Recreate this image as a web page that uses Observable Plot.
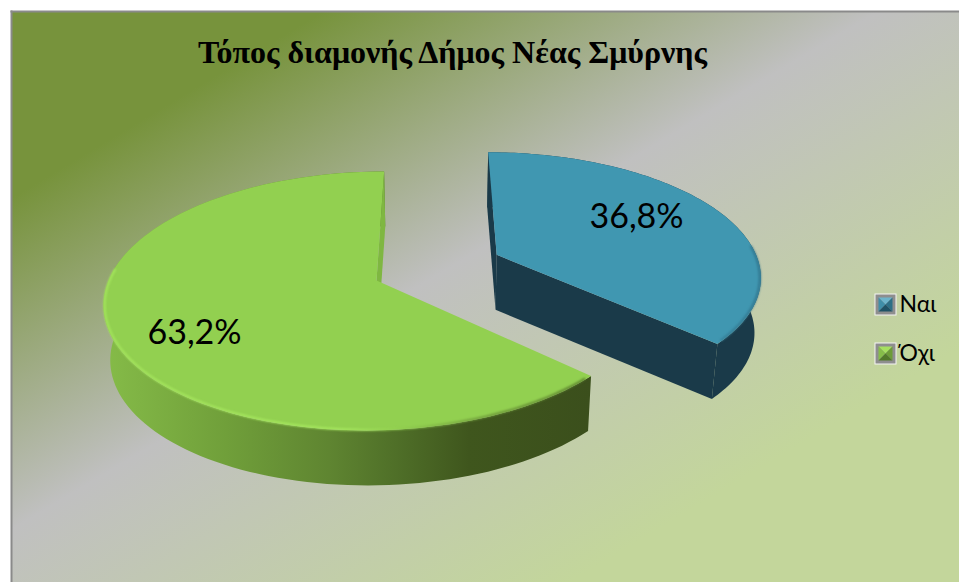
<!DOCTYPE html>
<html>
<head>
<meta charset="utf-8">
<script src="https://cdn.jsdelivr.net/npm/d3@7"></script>
<script src="https://cdn.jsdelivr.net/npm/@observablehq/plot@0.6"></script>
<style>
html,body{margin:0;padding:0;background:#fff;overflow:hidden}
svg{display:block}
</style>
</head>
<body>
<div id="chart"></div>
<script>
const titleText = "Τόπος διαμονής Δήμος Νέας Σμύρνης";
const categories = ["Ναι", "Όχι"];
const shares = [36.8, 63.2];
const shareLabels = ["36,8%", "63,2%"];
const topColors = ["#4097b1", "#92d050"];
const labelAnchors = [[636, 217], [194, 333]];
const legendRows = [304, 353];

// Perspective of the tilted, exploded pie
const VX = 432, A = -519, B = 799, P = 0.158, KX = 268, DEPTH = 55;
const offsets = [[66.3, -0.21], [-56, 0]];

function project(ox, oy, r, ang, down = 0) {
  const s = 1 / (1 - P * (oy - r * Math.cos(ang)));
  const X = ox + KX * r * Math.sin(ang);
  const x = VX + X * s, y = A + B * s;
  if (!down) return {x, y};
  return {x: x + (440 - x) * 0.02, y: y + down};
}
const pie = d3.pie().sort(null).value(d => d)(shares);
const arc = (i, a0, a1, r = 1, down = 0, n = 120) =>
  d3.range(n + 1).map(k => project(offsets[i][0], offsets[i][1], r, a0 + (a1 - a0) * k / n, down));
const slices = pie.map((p, i) => {
  const [a0, a1] = [p.startAngle, p.endAngle];
  const apex = project(offsets[i][0], offsets[i][1], 0, 0);
  const apexB = project(offsets[i][0], offsets[i][1], 0, 0, DEPTH);
  const rim = arc(i, a0, a1);
  const rimB = arc(i, a0, a1, 1, DEPTH);
  return {
    a0, a1,
    top: [apex, ...rim],
    side: [...rim, ...rimB.slice().reverse()],
    faceStart: [apex, apexB, rimB[0], rim[0]],
    faceEnd: [apex, apexB, rimB[rimB.length - 1], rim[rim.length - 1]]
  };
});

const poly = (pts, fill, extra = {}) => Plot.line(pts, {x: "x", y: "y", fill, stroke: "none", ...extra});
const stripe = (pts, stroke, w, blur) => Plot.line(pts, {x: "x", y: "y", stroke, strokeWidth: w, imageFilter: `blur(${blur}px)`});

const stopsOf = s => s.map(([o, c]) => `<stop offset="${o}" stop-color="${c}"/>`).join("");
const defs = () => {
  const g = document.createElementNS("http://www.w3.org/2000/svg", "defs");
  g.innerHTML = `
  <linearGradient id="bg" gradientUnits="userSpaceOnUse" x1="0" y1="0" x2="410.4" y2="686.4">
    ${stopsOf([[0.219, "#77933c"], [0.575, "#c0c0c0"], [0.99, "#c3d69b"]])}
  </linearGradient>
  <linearGradient id="greenSide" gradientUnits="userSpaceOnUse" x1="105" y1="0" x2="590" y2="0">
    ${stopsOf([[0, "#85bb48"], [0.25, "#709f3a"], [0.46, "#5f8531"], [0.6, "#4f6f28"], [0.75, "#3f561d"], [1, "#3b4f1c"]])}
  </linearGradient>
  <linearGradient id="greenRim" gradientUnits="userSpaceOnUse" x1="105" y1="0" x2="590" y2="0">
    ${stopsOf([[0, "#a6e65e"], [0.5, "#a8ea60"], [0.6, "#92d050"], [0.78, "#6b9438"], [1, "#55782a"]])}
  </linearGradient>
  <linearGradient id="blueRim" gradientUnits="userSpaceOnUse" x1="715" y1="0" x2="762" y2="0">
    ${stopsOf([[0, "#357f98"], [1, "#2f7189"]])}
  </linearGradient>`;
  return g;
};

const legendMarker = (i, y) => {
  const x0 = 875, s = 20, xm = x0 + s / 2, ym = y;
  const L = x0 + 3, R = x0 + s - 3, T = y - s / 2 + 3, Bo = y + s / 2 - 3;
  const pal = i === 0
    ? ["#6db4cb", "#3f8ea8", "#2d6f86", "#1f5266"]
    : ["#a6e060", "#86bd4a", "#6d9c38", "#527a2a"];
  const c = {x: xm, y: ym};
  const outer = [{x: x0 - 1, y: y - s / 2 - 1}, {x: x0 + s + 1, y: y - s / 2 - 1}, {x: x0 + s + 1, y: y + s / 2 + 1}, {x: x0 - 1, y: y + s / 2 + 1}];
  const inner = [{x: x0, y: y - s / 2}, {x: x0 + s, y: y - s / 2}, {x: x0 + s, y: y + s / 2}, {x: x0, y: y + s / 2}];
  const tl = {x: L, y: T}, tr = {x: R, y: T}, br = {x: R, y: Bo}, bl = {x: L, y: Bo};
  return [
    poly(outer, "#f4f4f4"), poly(inner, "#8e8e8e"),
    poly([tl, tr, c], pal[0]), poly([tl, bl, c], pal[1]),
    poly([tr, br, c], pal[2]), poly([bl, br, c], pal[3])
  ];
};

const [blue, green] = slices;
const labelRows = shareLabels.map((t, i) => ({t, x: labelAnchors[i][0], y: labelAnchors[i][1]}));
const legendData = categories.map((t, i) => ({t, y: legendRows[i]}));

const chart = Plot.plot({
  width: 959, height: 582,
  marginTop: 11, marginLeft: 11, marginRight: 0, marginBottom: 0,
  x: {domain: [11, 959], axis: null},
  y: {domain: [11, 582], range: [11, 582], axis: null},
  marks: [
    defs,
    Plot.frame({fill: "url(#bg)"}),
    Plot.frame({anchor: "left", stroke: "#8a8a8a", strokeWidth: 2}),
    Plot.frame({anchor: "top", stroke: "#8a8a8a", strokeWidth: 2}),
    // green slice
    poly(green.side, "url(#greenSide)"),
    poly(green.faceEnd, "#7fb741"),
    poly(green.top, topColors[1]),
    stripe(arc(1, blue.a1 + 0.03, 4.8, 0.996), "url(#greenRim)", 2, 0.9),
    // blue slice
    poly(blue.side, "#1a3a49"),
    poly(blue.faceStart, "#1a3a49"),
    poly(blue.faceEnd, "#1a3a49"),
    poly(blue.top, topColors[0]),
    stripe(arc(0, 1.5, blue.a1 - 0.03, 0.996), "url(#blueRim)", 2, 1),
    Plot.text(labelRows, {x: "x", y: "y", text: "t", fontSize: 34, fontFamily: "Lato, 'Open Sans', sans-serif", fill: "black"}),
    Plot.text([titleText], {x: () => 452, y: () => 52, text: d => d, fontSize: 32, fontWeight: "bold", fontFamily: "'Liberation Serif', serif", fill: "black"}),
    ...legendData.flatMap((d, i) => legendMarker(i, d.y)),
    Plot.text(legendData, {x: () => 899, y: "y", text: "t", textAnchor: "start", fontSize: 23, fontFamily: "Lato, 'Open Sans', sans-serif", fill: "black"})
  ]
});
document.getElementById("chart").append(chart);
</script>
</body>
</html>
